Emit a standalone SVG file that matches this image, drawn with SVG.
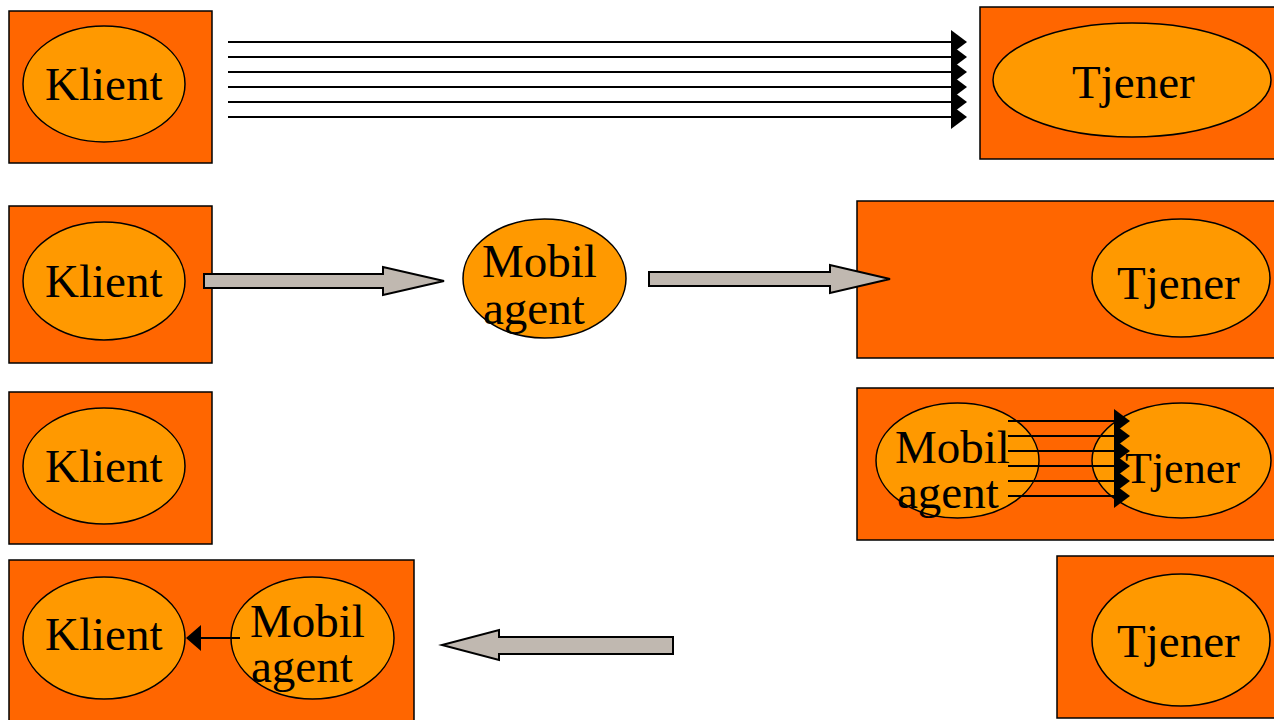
<svg xmlns="http://www.w3.org/2000/svg" width="1274" height="720" viewBox="0 0 1274 720">
  <defs>
    <style>
      .box { fill: #FF6600; stroke: #000; stroke-width: 1.5; }
      .node { fill: #FF9900; stroke: #000; stroke-width: 1.5; }
      .lbl { font-family: "Liberation Serif", "Times New Roman", serif; font-size: 47px; fill: #000; }
      .msg { stroke: #000; stroke-width: 2; fill: none; }
      .head { fill: #000; }
      .big { fill: #C0B8B0; stroke: #000; stroke-width: 2; stroke-linejoin: miter; }
    </style>
  </defs>
  <rect width="1274" height="720" fill="#fff"/>

  <!-- Row 1: client sends many messages to server -->
  <g id="row1-klient">
    <rect class="box" x="9" y="11" width="203" height="152"/>
    <ellipse class="node" cx="104" cy="84" rx="81" ry="58"/>
    <text class="lbl" x="45" y="100">Klient</text>
  </g>
  <g id="row1-tjener">
    <rect class="box" x="980" y="7" width="296" height="152"/>
    <ellipse class="node" cx="1132" cy="80" rx="139" ry="57"/>
    <text class="lbl" x="1072" y="98">Tjener</text>
  </g>

  <!-- Row 2: client dispatches mobile agent to server -->
  <g id="row2-klient">
    <rect class="box" x="9" y="206" width="203" height="157"/>
    <ellipse class="node" cx="104" cy="281" rx="81" ry="59"/>
    <text class="lbl" x="45" y="297">Klient</text>
  </g>
  <g id="row2-agent">
    <ellipse class="node" cx="544.5" cy="278.5" rx="81.5" ry="59.5"/>
    <text class="lbl" x="482" y="277">Mobil</text>
    <text class="lbl" x="483" y="324">agent</text>
  </g>
  <g id="row2-tjener">
    <rect class="box" x="857" y="201" width="419" height="157"/>
    <ellipse class="node" cx="1181" cy="278" rx="89" ry="59"/>
    <text class="lbl" x="1117" y="299">Tjener</text>
  </g>

  <!-- Row 3: agent talks to server locally -->
  <g id="row3-klient">
    <rect class="box" x="9" y="392" width="203" height="152"/>
    <ellipse class="node" cx="104" cy="466" rx="81" ry="58"/>
    <text class="lbl" x="45" y="482">Klient</text>
  </g>
  <g id="row3-tjener">
    <rect class="box" x="857" y="388" width="419" height="152"/>
    <ellipse class="node" cx="957.5" cy="460.5" rx="81.5" ry="57.5"/>
    <ellipse class="node" cx="1181.5" cy="460.5" rx="89.5" ry="57.5"/>
    <text class="lbl" x="895" y="463">Mobil</text>
    <text class="lbl" x="897" y="508">agent</text>
    <text class="lbl" x="1125" y="483" style="font-size:44px">Tjener</text>
  </g>

  <!-- Row 4: agent returns to client -->
  <g id="row4-klient">
    <rect class="box" x="9" y="560" width="405" height="162"/>
    <ellipse class="node" cx="104" cy="638" rx="81" ry="61"/>
    <text class="lbl" x="45" y="650">Klient</text>
    <ellipse class="node" cx="312.5" cy="638" rx="81.5" ry="61"/>
    <text class="lbl" x="250" y="637">Mobil</text>
    <text class="lbl" x="251" y="682">agent</text>
  </g>
  <g id="row4-tjener">
    <rect class="box" x="1057" y="556" width="219" height="162"/>
    <ellipse class="node" cx="1181" cy="640" rx="89" ry="66"/>
    <text class="lbl" x="1117" y="657">Tjener</text>
  </g>

  <g id="connectors">
    <!-- Row 1 message bundle -->
    <g>
      <line class="msg" x1="228" y1="42" x2="953" y2="42"/>
      <line class="msg" x1="228" y1="57" x2="953" y2="57"/>
      <line class="msg" x1="228" y1="72" x2="953" y2="72"/>
      <line class="msg" x1="228" y1="87" x2="953" y2="87"/>
      <line class="msg" x1="228" y1="102" x2="953" y2="102"/>
      <line class="msg" x1="228" y1="117" x2="953" y2="117"/>
      <polygon class="head" points="951,30 967,42 951,54"/>
      <polygon class="head" points="951,45 967,57 951,69"/>
      <polygon class="head" points="951,60 967,72 951,84"/>
      <polygon class="head" points="951,75 967,87 951,99"/>
      <polygon class="head" points="951,90 967,102 951,114"/>
      <polygon class="head" points="951,105 967,117 951,129"/>
    </g>
    <!-- Row 2 block arrows -->
    <polygon class="big" points="204,274 383,274 383,267 444,281 383,295 383,288 204,288"/>
    <polygon class="big" points="649,272 830,272 830,265 890,279 830,293 830,286 649,286"/>
    <!-- Row 3 message bundle -->
    <g>
      <line class="msg" x1="1008" y1="421" x2="1116" y2="421"/>
      <line class="msg" x1="1008" y1="436" x2="1116" y2="436"/>
      <line class="msg" x1="1008" y1="451" x2="1116" y2="451"/>
      <line class="msg" x1="1008" y1="466" x2="1116" y2="466"/>
      <line class="msg" x1="1008" y1="481" x2="1116" y2="481"/>
      <line class="msg" x1="1008" y1="496" x2="1116" y2="496"/>
      <polygon class="head" points="1114,409 1130,421 1114,433"/>
      <polygon class="head" points="1114,424 1130,436 1114,448"/>
      <polygon class="head" points="1114,439 1130,451 1114,463"/>
      <polygon class="head" points="1114,454 1130,466 1114,478"/>
      <polygon class="head" points="1114,469 1130,481 1114,493"/>
      <polygon class="head" points="1114,484 1130,496 1114,508"/>
    </g>
    <!-- Row 4 agent to client -->
    <line class="msg" x1="240" y1="638" x2="200" y2="638"/>
    <polygon class="head" points="201,625 186,638 201,651"/>
    <polygon class="big" points="673,637 499,637 499,630 442,645 499,660 499,654 673,654"/>
  </g>
</svg>
